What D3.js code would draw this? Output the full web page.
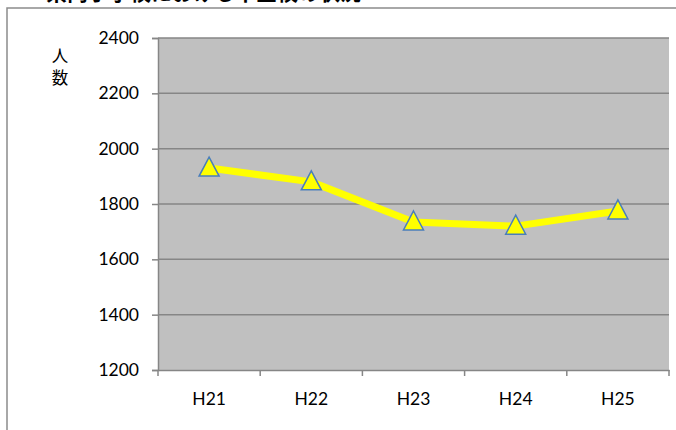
<!DOCTYPE html>
<html>
<head>
<meta charset="utf-8">
<script src="https://cdn.jsdelivr.net/npm/d3@7"></script>
<style>
body { margin: 0; background: #fff; }
svg { display: block; }
.tick text { font-family: Lato, "Open Sans", sans-serif; font-size: 17.5px; fill: #000; }
</style>
</head>
<body>
<svg width="676" height="430"></svg>
<script>
const categories = ["H21", "H22", "H23", "H24", "H25"]
const values = [1930, 1880, 1735, 1720, 1775]
const yTicks = [1200, 1400, 1600, 1800, 2000, 2200, 2400]
const titleText = "県内小学校における不登校の状況"
const yLabel = ["人", "数"]

var svg = d3.select("svg"),
    margin = { top: 38, right: 7, bottom: 60, left: 158 },
    width = 676 - margin.left - margin.right,
    height = 430 - margin.top - margin.bottom

// title, mostly cut off at the top edge
svg.append("text")
   .attr("x", 46)
   .attr("y", 0)
   .attr("font-family", "'Noto Sans CJK JP', sans-serif")
   .attr("font-size", 21)
   .attr("font-weight", "bold")
   .text(titleText)

// outer chart frame
svg.append("path")
   .attr("d", "M7,440 L7,8 L690,8")
   .attr("fill", "none")
   .attr("stroke", "#8c8c8c")
   .attr("stroke-width", 1.5)

var g = svg.append("g")
           .attr("transform", "translate(" + margin.left + "," + margin.top + ")")

var x = d3.scaleBand()
          .domain(categories)
          .range([0, width])

var y = d3.scaleLinear()
          .domain([1200, 2400])
          .range([height, 0])

// plot background
g.append("rect")
 .attr("width", width)
 .attr("height", height)
 .attr("fill", "#c0c0c0")

// gridlines
g.append("g")
 .selectAll("line")
 .data(yTicks.slice(1))
 .enter()
 .append("line")
 .attr("x1", 0)
 .attr("x2", width)
 .attr("y1", function(d) { return y(d) })
 .attr("y2", function(d) { return y(d) })
 .attr("stroke", "#868686")
 .attr("stroke-width", 1.5)

// y axis
var yAxis = g.append("g")
 .call(d3.axisLeft(y).tickValues(yTicks).tickSize(6).tickPadding(13).tickFormat(d3.format("d")))
yAxis.select(".domain").attr("stroke", "#868686").attr("stroke-width", 1.5)
yAxis.selectAll(".tick line").attr("stroke", "#868686").attr("stroke-width", 1.5)

// x axis with ticks at category boundaries
var xAxis = g.append("g")
 .attr("transform", "translate(0," + height + ")")
 .call(d3.axisBottom(x).tickSize(0).tickPadding(23))
xAxis.select(".domain").attr("stroke", "#868686").attr("stroke-width", 1.5)
xAxis.selectAll(".bnd")
 .data(d3.range(categories.length + 1))
 .enter()
 .append("line")
 .attr("x1", function(i) { return i * x.step() })
 .attr("x2", function(i) { return i * x.step() })
 .attr("y1", 0)
 .attr("y2", 6)
 .attr("stroke", "#868686")
 .attr("stroke-width", 1.5)

// y axis title, vertical
svg.append("g")
   .selectAll("text")
   .data(yLabel)
   .enter()
   .append("text")
   .attr("x", 60)
   .attr("y", function(d, i) { return 62 + i * 22 })
   .attr("text-anchor", "middle")
   .attr("font-family", "'Noto Sans CJK JP', sans-serif")
   .attr("font-size", 16.5)
   .text(function(d) { return d })

var cx = function(d, i) { return x(categories[i]) + x.bandwidth() / 2 }

var line = d3.line()
             .x(cx)
             .y(function(d) { return y(d) })

g.append("path")
 .datum(values)
 .attr("d", line)
 .attr("fill", "none")
 .attr("stroke", "#ffff00")
 .attr("stroke-width", 7)
 .attr("stroke-linejoin", "round")

// triangle marker, 20 wide and 19 tall
var tri = "M0,-11 L10,8 L-10,8 Z"

g.selectAll(".marker")
 .data(values)
 .enter()
 .append("path")
 .attr("class", "marker")
 .attr("d", tri)
 .attr("transform", function(d, i) { return "translate(" + cx(d, i) + "," + y(d) + ")" })
 .attr("fill", "#ffff00")
 .attr("stroke", "#4a7ebb")
 .attr("stroke-width", 1.5)
</script>
</body>
</html>
